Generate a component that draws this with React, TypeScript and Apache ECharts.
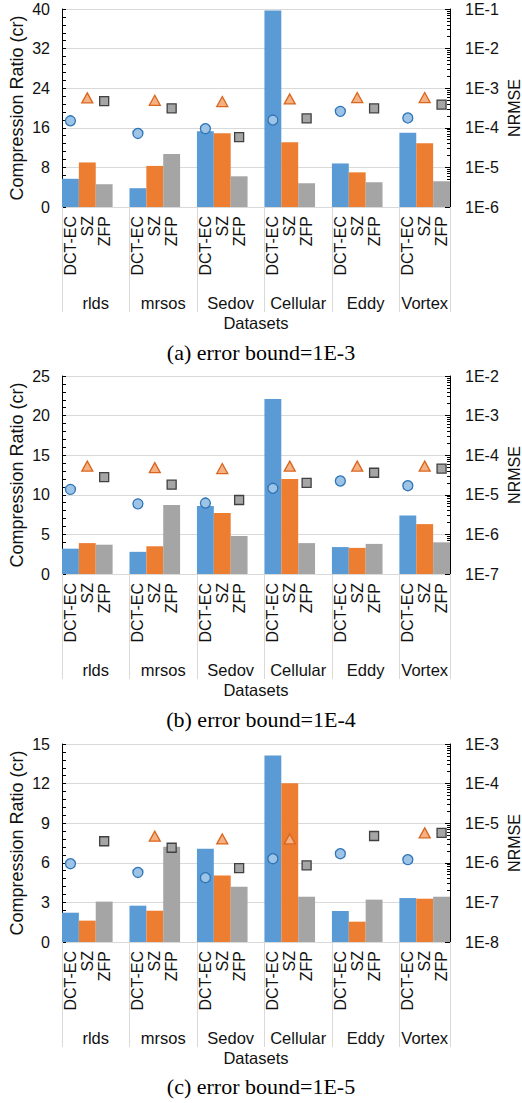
import React, { useEffect, useRef } from 'react';
import * as echarts from 'echarts';

// Datasets and compressors shown in every panel
const datasets = ['rlds', 'mrsos', 'Sedov', 'Cellular', 'Eddy', 'Vortex'];
const methods = ['DCT-EC', 'SZ', 'ZFP'];

// (a) error bound = 1E-3
const crA_dct = [5.7, 3.8, 15.3, 39.7, 8.8, 15.0];
const crA_sz = [9.0, 8.3, 14.9, 13.1, 7.0, 12.9];
const crA_zfp = [4.6, 10.7, 6.2, 4.8, 5.0, 5.2];
const nrA_dct = [1.5e-4, 7.2e-5, 9.5e-5, 1.57e-4, 2.6e-4, 1.77e-4];
const nrA_sz = [5.7e-4, 4.95e-4, 4.6e-4, 5.35e-4, 5.8e-4, 5.8e-4];
const nrA_zfp = [4.7e-4, 3.1e-4, 5.8e-5, 1.73e-4, 3.1e-4, 3.85e-4];

// (b) error bound = 1E-4
const crB_dct = [3.2, 2.8, 8.6, 22.1, 3.4, 7.4];
const crB_sz = [3.9, 3.5, 7.7, 12.0, 3.3, 6.3];
const crB_zfp = [3.7, 8.7, 4.8, 3.9, 3.8, 4.0];
const nrB_dct = [1.37e-5, 5.9e-6, 6.2e-6, 1.46e-5, 2.23e-5, 1.7e-5];
const nrB_sz = [5.3e-5, 4.85e-5, 4.6e-5, 5.3e-5, 5.3e-5, 5.3e-5];
const nrB_zfp = [2.8e-5, 1.8e-5, 7.4e-6, 2.0e-5, 3.6e-5, 4.6e-5];

// (c) error bound = 1E-5
const crC_dct = [2.22, 2.75, 7.07, 14.12, 2.35, 3.33];
const crC_sz = [1.62, 2.37, 5.03, 12.02, 1.54, 3.28];
const crC_zfp = [3.06, 7.22, 4.19, 3.43, 3.21, 3.43];
const nrC_dct = [9.5e-7, 5.7e-7, 4.2e-7, 1.27e-6, 1.7e-6, 1.2e-6];
const nrC_sz = [null, 4.7e-6, 4.0e-6, 4.0e-6, null, 5.7e-6];
const nrC_zfp = [3.5e-6, 2.4e-6, 7.3e-7, 8.6e-7, 4.75e-6, 5.7e-6];

const panels = [
  { caption: '(a) error bound=1E-3', crMax: 40, crStep: 8, nrMin: 1e-6, nrMax: 1e-1, cr: [crA_dct, crA_sz, crA_zfp], nr: [nrA_dct, nrA_sz, nrA_zfp] },
  { caption: '(b) error bound=1E-4', crMax: 25, crStep: 5, nrMin: 1e-7, nrMax: 1e-2, cr: [crB_dct, crB_sz, crB_zfp], nr: [nrB_dct, nrB_sz, nrB_zfp] },
  { caption: '(c) error bound=1E-5', crMax: 15, crStep: 3, nrMin: 1e-8, nrMax: 1e-3, cr: [crC_dct, crC_sz, crC_zfp], nr: [nrC_dct, nrC_sz, nrC_zfp] },
];

const barColors = ['#5B9BD5', '#ED7D31', '#A5A5A5'];
const markers = [
  { symbol: 'circle', size: 10, fill: '#9DC3E6', border: '#2E75B6' },
  { symbol: 'triangle', size: [11, 10], fill: '#F4B183', border: '#D9661F' },
  { symbol: 'rect', size: 9, fill: '#A5A5A5', border: '#404040' },
];

const FONT = 'Liberation Sans';
const TXT = '#111';

// Each dataset gets one slot per method plus a blank spacer slot (none after the last)
const slotCount = datasets.length * (methods.length + 1) - 1;
const slotLabels: string[] = [];
datasets.forEach((_, i) => {
  methods.forEach((m) => slotLabels.push(m));
  if (i < datasets.length - 1) slotLabels.push('');
});

const toSlots = (values: (number | null)[], methodIdx: number) => {
  const arr: (number | string)[] = new Array(slotCount).fill('-');
  values.forEach((v, i) => {
    if (v !== null && v !== undefined) arr[i * (methods.length + 1) + methodIdx] = v;
  });
  return arr;
};

// Group axis on half-slot boundaries: group names at group centres, separators at group edges
const halfCount = slotCount * 2 + 1;
const groupAxisData: string[] = new Array(halfCount).fill('');
const separators = new Set<number>();
datasets.forEach((name, i) => {
  const start = i * (methods.length + 1);
  const end = Math.min(start + methods.length + 1, slotCount);
  groupAxisData[start + end] = name;
  separators.add(start * 2);
  separators.add(end * 2);
});

const PANEL_TOP = [9, 376, 744];
const PANEL_H = 198;
const CAPTION_TOP = [336, 703, 1070];

export default function App() {
  const ref = useRef<HTMLDivElement>(null);

  useEffect(() => {
    if (!ref.current) return;
    const chart = echarts.init(ref.current, undefined, { renderer: 'svg' });

    const grid: any[] = [];
    const xAxis: any[] = [];
    const yAxis: any[] = [];
    const series: any[] = [];
    const title: any[] = [];

    panels.forEach((p, g) => {
      grid.push({
        left: 62,
        right: 72,
        top: PANEL_TOP[g],
        height: PANEL_H,
        containLabel: false,
        outerBoundsMode: 'none',
      });

      title.push({
        text: p.caption,
        left: 'center',
        top: CAPTION_TOP[g],
        textStyle: { fontFamily: 'Liberation Serif', fontSize: 22, fontWeight: 'normal', color: '#000' },
      });

      // method labels under each bar
      xAxis.push({
        type: 'category',
        gridIndex: g,
        position: 'bottom',
        data: slotLabels,
        boundaryGap: true,
        axisLine: { show: true, lineStyle: { color: '#d9d9d9', width: 1 } },
        axisTick: { show: false },
        axisLabel: { interval: 0, rotate: 90, margin: 9, fontSize: 16, fontFamily: FONT, color: TXT },
      });
      // dataset names with separators
      xAxis.push({
        type: 'category',
        gridIndex: g,
        position: 'bottom',
        offset: 0,
        data: groupAxisData,
        boundaryGap: false,
        axisLine: { show: false },
        axisTick: {
          show: true,
          length: 105,
          interval: (idx: number) => separators.has(idx),
          lineStyle: { color: '#d9d9d9', width: 1 },
        },
        axisLabel: { interval: 0, margin: 87, fontSize: 16.5, fontFamily: FONT, color: TXT },
        name: 'Datasets',
        nameLocation: 'middle',
        nameGap: 107,
        nameMoveOverlap: false,
        nameTextStyle: { fontSize: 16.5, fontFamily: FONT, color: TXT },
      });

      yAxis.push({
        type: 'value',
        gridIndex: g,
        position: 'left',
        min: 0,
        max: p.crMax,
        interval: p.crStep,
        name: 'Compression Ratio (cr)',
        nameLocation: 'middle',
        nameGap: 36,
        nameMoveOverlap: false,
        nameTextStyle: { fontSize: 18, fontFamily: FONT, color: TXT },
        axisLine: { show: true, lineStyle: { color: '#000', width: 1 } },
        axisTick: { show: true, inside: true, length: 4, lineStyle: { color: '#000' } },
        minorTick: { show: true, splitNumber: 5, length: 4, lineStyle: { color: '#000' } },
        axisLabel: { fontSize: 16, margin: 12, fontFamily: FONT, color: TXT },
        splitLine: { show: true, lineStyle: { color: '#d9d9d9', width: 1 } },
      });
      yAxis.push({
        type: 'log',
        logBase: 10,
        gridIndex: g,
        position: 'right',
        min: p.nrMin,
        max: p.nrMax,
        splitNumber: 5,
        name: 'NRMSE',
        nameLocation: 'middle',
        nameRotate: 90,
        nameGap: 56,
        nameMoveOverlap: false,
        nameTextStyle: { fontSize: 16, fontFamily: FONT, color: TXT },
        axisLine: { show: true, lineStyle: { color: '#000', width: 1 } },
        axisTick: { show: true, inside: true, length: 5, lineStyle: { color: '#000' } },
        minorTick: { show: true, splitNumber: 9, length: 3, lineStyle: { color: '#000' } },
        axisLabel: {
          fontSize: 16,
          margin: 15,
          fontFamily: FONT,
          color: TXT,
          formatter: (v: number) => '1E' + Math.round(Math.log10(v)),
        },
        splitLine: { show: false },
      });

      methods.forEach((m, k) => {
        series.push({
          name: m,
          type: 'bar',
          xAxisIndex: g * 2,
          yAxisIndex: g * 2,
          stack: 'cr' + g,
          barCategoryGap: '0%',
          data: toSlots(p.cr[k], k),
          itemStyle: { color: barColors[k] },
          z: 2,
        });
      });
      methods.forEach((m, k) => {
        const mk = markers[k];
        series.push({
          name: m + ' NRMSE',
          type: 'scatter',
          xAxisIndex: g * 2,
          yAxisIndex: g * 2 + 1,
          symbol: mk.symbol,
          symbolSize: mk.size,
          data: toSlots(p.nr[k], k),
          itemStyle: { color: mk.fill, borderColor: mk.border, borderWidth: 1.3, opacity: 1 },
          z: 5,
        });
      });
    });

    chart.setOption({
      animation: false,
      backgroundColor: '#fff',
      textStyle: { fontFamily: FONT },
      title,
      grid,
      xAxis,
      yAxis,
      series,
    });

    return () => chart.dispose();
  }, []);

  return (
    <div
      ref={ref}
      style={{ position: 'fixed', left: 0, top: 0, width: 522, height: 1103, background: '#fff' }}
    />
  );
}
